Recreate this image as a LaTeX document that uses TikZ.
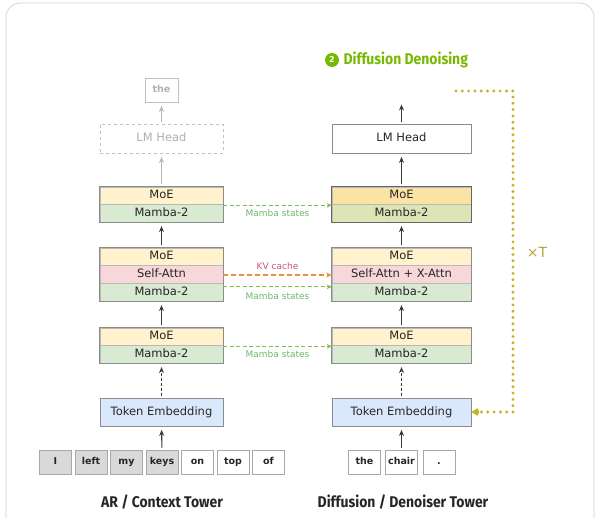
\documentclass[tikz,border=0pt]{standalone}
\usepackage{fontspec}
\setmainfont{DejaVu Sans}
\newfontfamily\titlefont[FakeStretch=0.9]{Fira Sans}
\usetikzlibrary{arrows.meta,fit}
\definecolor{moe}{HTML}{FFF2CC}
\definecolor{mamba}{HTML}{D9EAD3}
\definecolor{sattn}{HTML}{F8D7DA}
\definecolor{temb}{HTML}{DAE8FC}
\definecolor{moeD}{HTML}{FBE3A3}
\definecolor{mambaD}{HTML}{DDE5B6}
\definecolor{laysep}{HTML}{B8B8B8}
\definecolor{boxb}{HTML}{8C8C8C}
\definecolor{tokfill}{HTML}{D9D9D9}
\definecolor{tokb}{HTML}{A8A8A8}
\definecolor{garrow}{HTML}{7DBE4E}
\definecolor{glabel}{HTML}{6DB86D}
\definecolor{oarrow}{HTML}{E8913A}
\definecolor{kvlabel}{HTML}{C8557A}
\definecolor{olive}{HTML}{C4B31F}
\definecolor{olivet}{HTML}{B8A640}
\definecolor{tgreen}{HTML}{76B900}
\definecolor{framec}{HTML}{D4D4D4}
\definecolor{ghost}{HTML}{B0B0B0}
\begin{document}
\begin{tikzpicture}[x=1pt,y=-1pt,
  lay/.style={draw=laysep, line width=0.4pt, inner sep=0pt, minimum height=#1,
    text height=8.5pt, text depth=2.3pt, font=\fontsize{11.5}{13}\selectfont, text=black!85},
  lw/.style={minimum width=123pt},
  rw/.style={minimum width=139pt},
  blockbox/.style={draw=boxb, line width=0.8pt, inner sep=0pt},
  tok/.style={draw=tokb, line width=0.6pt, minimum width=32pt, minimum height=24pt, inner sep=0pt,
    text height=7pt, text depth=2pt, font=\bfseries\fontsize{9.5}{11}\selectfont, text=black!85},
  arr/.style={-{Stealth[length=6pt,width=5pt]}, line width=1.1pt, draw=black!78,
    shorten >=3.5pt, shorten <=2pt},
  dsh/.style={dash pattern=on 3pt off 2pt},
  garr/.style={-{Stealth[length=5pt,width=4.5pt]}, line width=1.1pt, draw=garrow, dash pattern=on 4pt off 2.5pt},
  oarr/.style={-{Stealth[length=5.5pt,width=5pt]}, line width=1.8pt, draw=oarrow, dash pattern=on 5pt off 3pt},
  lbl/.style={font=\fontsize{9}{10}\selectfont, text=glabel},
  ttl/.style={font=\titlefont\bfseries\fontsize{15.5}{17}\selectfont, text=black!85}
]
\useasboundingbox (0,0) rectangle (600,518);
\fill[white] (0,0) rectangle (600,518);
\draw[framec, line width=0.8pt, rounded corners=14pt] (6,3) rectangle (594,545);

% ---------- Left tower ----------
\node[tok, fill=tokfill] (t1) at (55.5,462) {I};
\node[tok, fill=tokfill] (t2) at (91,462) {left};
\node[tok, fill=tokfill] (t3) at (126.5,462) {my};
\node[tok, fill=tokfill] (t4) at (162,462) {keys};
\node[tok, fill=white] (t5) at (197.5,462) {on};
\node[tok, fill=white] (t6) at (233,462) {top};
\node[tok, fill=white] (t7) at (268.5,462) {of};

\node[lay=28pt, lw, fill=temb, draw=boxb, line width=0.8pt] (L0) at (161.5,412) {Token Embedding};

\node[lay=17pt, lw, fill=moe] (L1m) at (161.5,336.5) {MoE};
\node[lay=18pt, lw, fill=mamba] (L1a) at (161.5,354) {Mamba-2};
\node[blockbox, fit=(L1m)(L1a)] (L1) {};

\node[lay=17pt, lw, fill=moe] (L2m) at (161.5,256.5) {MoE};
\node[lay=18pt, lw, fill=sattn] (L2s) at (161.5,274) {Self-Attn};
\node[lay=18pt, lw, fill=mamba] (L2a) at (161.5,292) {Mamba-2};
\node[blockbox, fit=(L2m)(L2a)] (L2) {};

\node[lay=17pt, lw, fill=moe] (L3m) at (161.5,195.5) {MoE};
\node[lay=18pt, lw, fill=mamba] (L3a) at (161.5,213) {Mamba-2};
\node[blockbox, fit=(L3m)(L3a)] (L3) {};

\node[lay=29pt, lw, draw=ghost!80, dashed, line width=0.8pt, text=ghost] (LH) at (161.5,138.5) {LM Head};
\node[draw=ghost!80, line width=0.8pt, minimum width=33pt, minimum height=24pt, inner sep=0pt,
  text height=7pt, text depth=2pt, font=\bfseries\fontsize{9.5}{11}\selectfont, text=ghost] (the0) at (161.5,90) {the};

\draw[arr] (t4.north) -- (L0.south);
\draw[arr, dsh] (L0.north) -- (L1.south);
\draw[arr] (L1.north) -- (L2.south);
\draw[arr] (L2.north) -- (L3.south);
\draw[arr, draw=ghost!90] (L3.north) -- (LH.south);
\draw[arr, draw=ghost!90] (LH.north) -- (the0.south);

% ---------- Right tower ----------
\node[tok, fill=white] (u1) at (364.5,462) {the};
\node[tok, fill=white] (u2) at (401.5,462) {chair};
\node[tok, fill=white] (u3) at (439,462) {.};

\node[lay=28pt, rw, fill=temb, draw=boxb, line width=0.8pt] (R0) at (401.5,412) {Token Embedding};

\node[lay=17pt, rw, fill=moe] (R1m) at (401.5,336.5) {MoE};
\node[lay=18pt, rw, fill=mamba] (R1a) at (401.5,354) {Mamba-2};
\node[blockbox, fit=(R1m)(R1a)] (R1) {};

\node[lay=17pt, rw, fill=moe] (R2m) at (401.5,256.5) {MoE};
\node[lay=18pt, rw, fill=sattn] (R2s) at (401.5,274) {Self-Attn + X-Attn};
\node[lay=18pt, rw, fill=mamba] (R2a) at (401.5,292) {Mamba-2};
\node[blockbox, fit=(R2m)(R2a)] (R2) {};

\node[lay=17pt, rw, fill=moeD] (R3m) at (401.5,195.5) {MoE};
\node[lay=18pt, rw, fill=mambaD] (R3a) at (401.5,213) {Mamba-2};
\node[blockbox, draw=black!60, fit=(R3m)(R3a)] (R3) {};

\node[lay=29pt, rw, fill=white, draw=boxb, line width=0.8pt] (RH) at (401.5,138.5) {LM Head};
\coordinate (Rtop) at (401.5,101);

\draw[arr] (u2.north) -- (R0.south);
\draw[arr, dsh] (R0.north) -- (R1.south);
\draw[arr] (R1.north) -- (R2.south);
\draw[arr] (R2.north) -- (R3.south);
\draw[arr] (R3.north) -- (RH.south);
\draw[arr] (RH.north) -- (Rtop);

% ---------- Cross-tower connectors ----------
\draw[garr] ([yshift=-1.5pt]L3a.north east) -- ([yshift=-1.5pt]R3a.north west)
  node[lbl, midway, yshift=-8pt] {Mamba states};
\draw[oarr] ([yshift=-1pt]L2s.east) -- ([yshift=-1pt]R2s.west)
  node[midway, yshift=9pt, font=\fontsize{9}{10}\selectfont, text=kvlabel] {KV cache};
\draw[garr] ([yshift=-4pt]L2a.north east) -- ([yshift=-4pt]R2a.north west)
  node[lbl, midway, yshift=-9pt] {Mamba states};
\draw[garr] ([yshift=-1.5pt]L1a.north east) -- ([yshift=-1.5pt]R1a.north west)
  node[lbl, midway, yshift=-8pt] {Mamba states};

% ---------- Diffusion loop ----------
\coordinate (D0) at (456,91);
\coordinate (D1) at (513,91);
\coordinate (D2) at (513,412);
\draw[olive, line width=3.2pt, line cap=round, dash pattern=on 0pt off 6.3pt,
  -{Kite[length=8pt,width=7.5pt,line cap=butt]}] (D0) -- (D1) -- (D2) -- (R0.east);
\node[text=olivet, font=\fontsize{14}{16}\selectfont] (xT) at (537,252) {×T};

% ---------- Titles ----------
\node[circle, fill=tgreen, text=white, inner sep=0pt, minimum size=14pt,
  font=\bfseries\fontsize{8}{9}\selectfont] (num) at (332,60) {2};
\node[anchor=west, text=tgreen, font=\titlefont\bfseries\fontsize{15.5}{17}\selectfont] (dtitle) at (340,60) {Diffusion Denoising};
\node[ttl] (ltitle) at (162,502) {AR / Context Tower};
\node[ttl] (rtitle) at (403,502) {Diffusion / Denoiser Tower};
\end{tikzpicture}
\end{document}
